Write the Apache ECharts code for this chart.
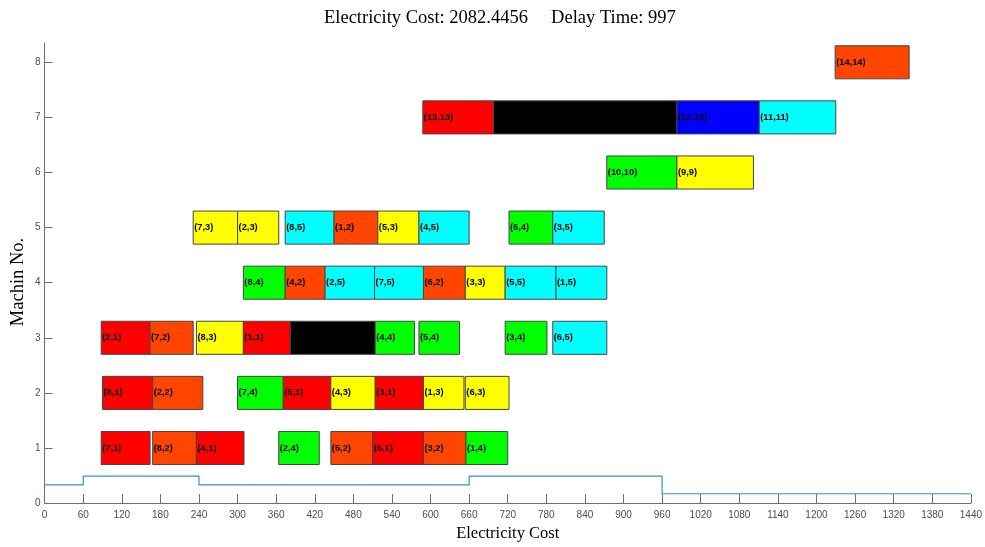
<!DOCTYPE html>
<html><head><meta charset="utf-8">
<script src="https://cdn.jsdelivr.net/npm/echarts@6/dist/echarts.min.js"></script>
<style>html,body{margin:0;padding:0;background:#fff}#c{width:985px;height:547px}</style>
</head><body><div id="c"></div>
<script>
// Gantt operations: job index, operation index (0 = idle/black block), machine, start, end
const jobs     = [7,8,4,2,5,6,3,1,  8,2,7,5,4,3,1,6,  2,7,8,1,0,4,5,3,6,  8,4,2,7,6,3,5,1,  7,2,8,1,5,4,6,3,  10,9,  13,0,12,11,  14];
const ops      = [1,2,1,4,2,1,2,4,  1,2,4,1,3,1,3,3,  1,2,3,1,0,4,4,4,5,  4,2,5,5,2,3,5,5,  3,3,5,2,3,5,4,5,  10,9,  13,0,12,11,  14];
const machines = [1,1,1,1,1,1,1,1,  2,2,2,2,2,2,2,2,  3,3,3,3,3,3,3,3,3,  4,4,4,4,4,4,4,4,  5,5,5,5,5,5,5,5,  6,6,  7,7,7,7,  8];
const starts   = [88,168,236,364,445,510,589,655,  90,168,300,371,445,514,589,654,  88,164,236,309,382,514,582,716,790,  309,374,436,513,589,654,716,795,  231,300,374,450,518,582,722,790,  874,983,  588,698,983,1111,  1229];
const ends     = [164,236,310,427,510,589,655,720,  168,246,371,445,514,589,652,722,  164,231,309,382,514,575,645,781,874,  374,436,513,589,654,716,795,874,  300,364,450,518,582,660,790,870,  983,1102,  698,983,1111,1230,  1344];

// electricity price profile (step curve)
const priceX = [0, 60, 240, 660, 960, 1440];
const priceY = [0.33, 0.49, 0.33, 0.49, 0.17, 0.17];

const xTicks = 60;
const yTickValues = [0,1,2,3,4,5,6,7,8];

const palette = {0:'#000000',1:'#FF0000',2:'#FF4500',3:'#FFFF00',4:'#00FF00',5:'#00FFFF',9:'#FFFF00',10:'#00FF00',11:'#00FFFF',12:'#0000FF',13:'#FF0000',14:'#FF4500'};

const chart = echarts.init(document.getElementById('c'), null, {renderer:'canvas'});
const barData = machines.map((m,i)=>[m, starts[i], ends[i]]);
const axisColor = '#6e6e6e';

chart.setOption({
  animation:false,
  backgroundColor:'#fff',
  title:{
    text:'Electricity Cost: 2082.4456     Delay Time: 997',
    left:319, top:4,
    textStyle:{fontFamily:'Liberation Serif', fontSize:18.5, fontWeight:'normal', color:'#000'}
  },
  graphic:[{
    type:'text', x:18, y:282, rotation:Math.PI/2,
    style:{text:'Machin No.', fontFamily:'Liberation Serif', fontSize:18.5, fill:'#000', align:'center', verticalAlign:'middle'}
  }],
  grid:{left:44.6, right:12.3, top:43, bottom:40.3, containLabel:false},
  xAxis:{
    type:'value', min:0, max:1440, interval:xTicks,
    name:'Electricity Cost', nameLocation:'middle', nameGap:21,
    nameTextStyle:{fontFamily:'Liberation Serif', fontSize:16.5, color:'#000'},
    axisLine:{show:true, lineStyle:{color:axisColor, width:1}},
    axisTick:{show:true, inside:true, length:9, lineStyle:{color:axisColor}},
    axisLabel:{color:'#4d4d4d', fontSize:10, fontFamily:'Liberation Sans', margin:7, formatter:v=>String(v)},
    splitLine:{show:false}
  },
  yAxis:{
    type:'value', min:0, max:8.35,
    axisLine:{show:true, lineStyle:{color:axisColor, width:1}},
    axisTick:{show:true, inside:true, length:8, lineStyle:{color:axisColor}, customValues:yTickValues},
    axisLabel:{color:'#4d4d4d', fontSize:10, fontFamily:'Liberation Sans', margin:4, customValues:yTickValues},
    splitLine:{show:false}
  },
  series:[
    {
      type:'line', step:'end', symbol:'none', z:1,
      data: priceX.map((x,i)=>[x, priceY[i]]),
      lineStyle:{color:'#3a8bd1', width:1.2}
    },
    {
      type:'custom', z:3,
      encode:{x:[1,2], y:0},
      data: barData,
      renderItem:function(params, api){
        const i = params.dataIndex;
        const m = api.value(0), s = api.value(1), e = api.value(2);
        const p0 = api.coord([s, m+0.3]);
        const p1 = api.coord([e, m-0.3]);
        const children = [{
          type:'rect',
          shape:{x:p0[0], y:p0[1], width:p1[0]-p0[0], height:p1[1]-p0[1]},
          style:{fill:palette[ops[i]], stroke:'#454545', lineWidth:1}
        }];
        if (ops[i] !== 0) {
          children.push({
            type:'text',
            style:{
              text:'('+jobs[i]+','+ops[i]+')',
              x:p0[0]+1, y:(p0[1]+p1[1])/2,
              align:'left', verticalAlign:'middle',
              fontFamily:'Liberation Sans', fontWeight:'bold', fontSize:9.3, fill:'#000'
            }
          });
        }
        return {type:'group', children:children};
      }
    }
  ]
});
</script>
</body></html>
